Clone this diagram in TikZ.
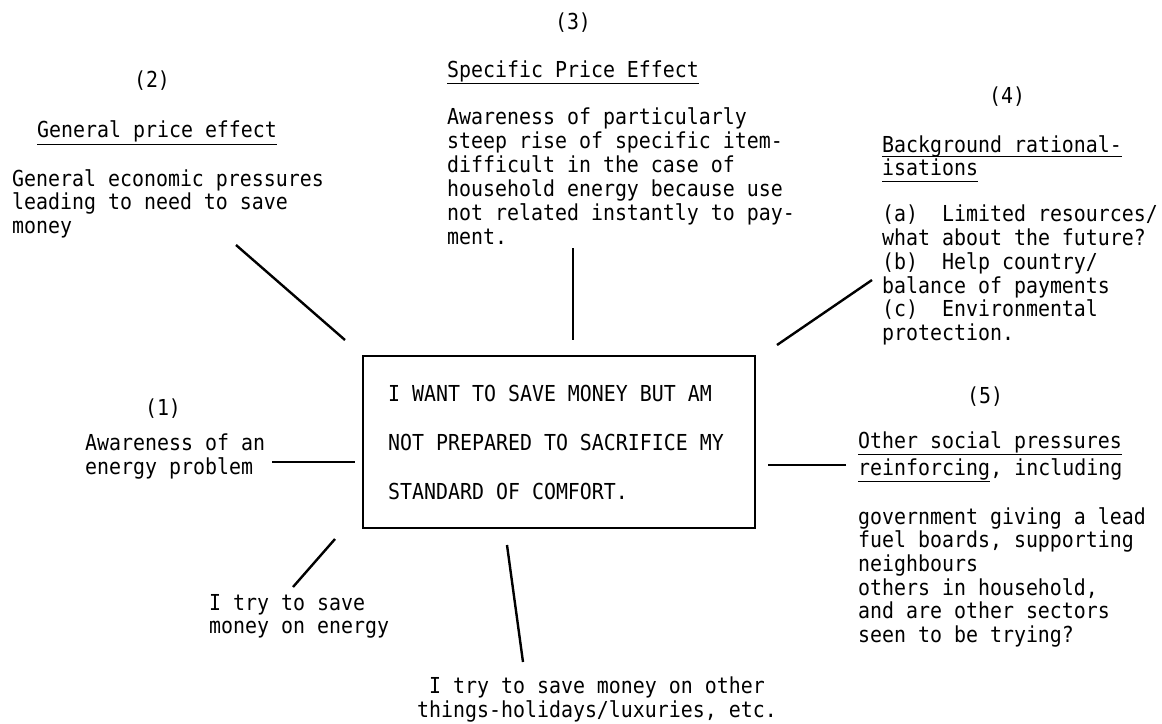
\documentclass[tikz,border=0pt]{standalone}
\usepackage{fontspec}
\newfontfamily\tw[FakeStretch=0.905]{DejaVu Sans Mono}
\begin{document}
\begin{tikzpicture}[x=1pt,y=-1pt,
  % text blocks are placed by the baseline of their first line
  txt/.style={font={\tw\fontsize{22}{23.7}\selectfont}, align=left, inner sep=0pt,
    anchor=north west, yshift=18pt, execute at begin node={\rule{0pt}{18pt}}},
  cont/.style={font={\tw\fontsize{22}{23.7}\selectfont}, inner sep=0pt, anchor=base west},
  num/.style={font={\tw\fontsize{22}{24}\selectfont}, inner sep=0pt, anchor=base},
  link/.style={line width=2.4pt},
  uline/.style={line width=1.3pt}]
\useasboundingbox (0,0) rectangle (1162,723);

% central statement
\node[draw, line width=2pt, minimum width=392pt, minimum height=172pt, inner sep=0pt] (core) at (559,442) {};
\node[txt, font={\tw\fontsize{22}{49}\selectfont}] (claim) at (388,403)
  {I WANT TO SAVE MONEY BUT AM\\NOT PREPARED TO SACRIFICE MY\\STANDARD OF COMFORT.};

% (1)
\node[num] (n1) at (163,415) {(1)};
\node[txt] (t1) at (85,452) {Awareness of an\\energy problem};

% (2)
\node[num] (n2) at (152,87) {(2)};
\node[txt] (h2) at (37,137) {General price effect};
\draw[uline] ([yshift=-7pt]h2.base west) -- ([yshift=-7pt]h2.base east);
\node[txt] (t2) at (12,187) {General economic pressures\\leading to need to save\\money};

% (3)
\node[num] (n3) at (573,29) {(3)};
\node[txt] (h3) at (447,77) {Specific Price Effect};
\draw[uline] ([yshift=-6pt]h3.base west) -- ([yshift=-6pt]h3.base east);
\node[txt, font={\tw\fontsize{22}{24}\selectfont}] (t3) at (447,125)
  {Awareness of particularly\\steep rise of specific item-\\difficult in the case of\\household energy because use\\not related instantly to pay-\\ment.};

% (4)
\node[num] (n4) at (1007,103) {(4)};
\node[txt] (h4a) at (882,152) {Background rational-};
\draw[uline] ([yshift=-4.5pt]h4a.base west) -- ([yshift=-4.5pt]h4a.base east);
\node[txt] (h4b) at (882,175) {isations};
\draw[uline] ([yshift=-6.5pt]h4b.base west) -- ([yshift=-6.5pt]h4b.base east);
\node[txt] (t4) at (882,223)
  {(a)\ \ Limited resources/\\what about the future?\\(b)\ \ Help country/\\balance of payments\\(c)\ \ Environmental\\protection.};

% (5)
\node[num] (n5) at (985,403) {(5)};
\node[txt] (h5a) at (858,448) {Other social pressures};
\draw[uline] ([yshift=-6.5pt]h5a.base west) -- ([yshift=-6.5pt]h5a.base east);
\node[txt] (h5b) at (858,475) {reinforcing};
\draw[uline] ([yshift=-6.5pt]h5b.base west) -- ([yshift=-6.5pt]h5b.base east);
\node[cont] (h5c) at (h5b.base east) {, including};
\node[txt] (t5) at (858,525)
  {government giving a lead\\fuel boards, supporting\\neighbours\\others in household,\\and are other sectors\\seen to be trying?};

% outcomes
\node[txt] (o1) at (209,612) {I try to save\\money on energy};
\node[txt, align=center, anchor=north] (o2) at (597,695)
  {I try to save money on other\\things-holidays/luxuries, etc.};

% connector ends
\coordinate (a1) at (272,462); \coordinate (b1) at (355,462);
\coordinate (a2) at (236,245); \coordinate (b2) at (345,340);
\coordinate (a3) at (573,248); \coordinate (b3) at (573,340);
\coordinate (a4) at (872,280); \coordinate (b4) at (777,345);
\coordinate (a5) at (846,465); \coordinate (b5) at (768,465);
\coordinate (a6) at (293,587); \coordinate (b6) at (335,539);
\coordinate (a7) at (523,662); \coordinate (b7) at (507,545);

\foreach \i in {1,...,7} \draw[link] (a\i) -- (b\i);
\end{tikzpicture}
\end{document}
